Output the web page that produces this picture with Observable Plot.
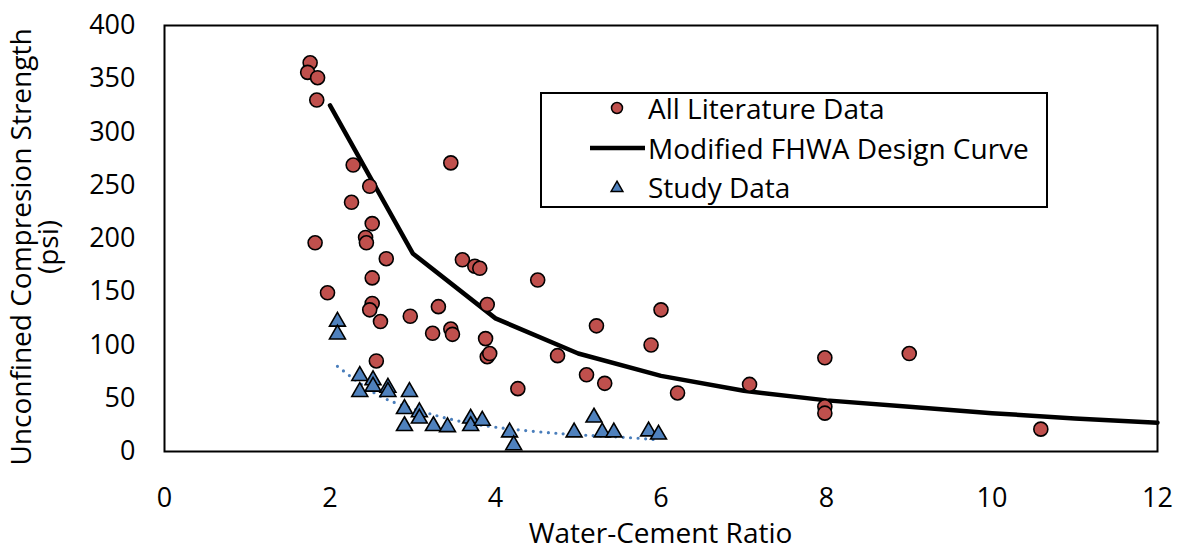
<!DOCTYPE html>
<html><head><meta charset="utf-8">
<script src="https://cdn.jsdelivr.net/npm/d3@7"></script>
<script src="https://cdn.jsdelivr.net/npm/@observablehq/plot@0.6"></script>
<style>
body{margin:0;background:#fff;}
#wrap{position:relative;width:1179px;height:552px;font-family:"Open Sans",sans-serif;}
#legend{position:absolute;left:540px;top:92px;width:508px;height:116px;border:2px solid #000;box-sizing:border-box;background:#fff;font-size:28px;color:#000;}
.row{position:absolute;left:0;height:36px;width:500px;}
.row svg{position:absolute;left:48px;top:0;}
.row span{position:absolute;left:106px;white-space:nowrap;top:50%;transform:translateY(-50%);line-height:1;}
</style></head>
<body><div id="wrap"></div>
<script>
// All Literature Data
const litX = [1.76,1.73,1.85,1.84,2.28,3.46,2.48,2.26,2.51,2.43,2.44,1.82,2.68,3.60,3.75,3.81,2.51,4.51,1.97,2.51,2.48,3.31,3.90,2.61,2.97,3.24,3.46,3.48,3.88,3.90,3.93,4.75,2.56,4.27,5.22,6.00,5.88,5.10,5.32,6.20,7.07,7.98,9.00,7.98,7.98,10.59];
const litY = [365,356,351,330,269,271,249,234,214,201,196,196,181,180,174,172,163,161,149,139,133,136,138,122,127,111,115,110,106,89,92,90,85,59,118,133,100,72,64,55,63,88,92,42,36,21];
// Study Data
const studyX = [2.09,2.09,2.36,2.36,2.52,2.52,2.70,2.70,2.96,2.90,2.90,3.08,3.08,3.25,3.42,3.70,3.70,3.84,4.17,4.22,4.95,5.19,5.29,5.43,5.85,5.97];
const studyY = [122,110,71,56,67,61,60,56,56,40,24,37,31,24,23,31,24,29,18,6,18,32,18,18,19,16];
// Modified FHWA Design Curve
const curveX = [2,3,4,5,6,7,8,9,10,11,12];
const curveY = [325,186,125,92,71,57,48,42,36,31,27];
// Study data trend (dotted)
const trendX = [2.09,2.57,3.01,3.42,3.98,4.82,5.51,5.95];
const trendY = [80,53.5,40,31,23,16.6,13.5,11];
const xTicks = [0,2,4,6,8,10,12];
const yTicks = [0,50,100,150,200,250,300,350,400];

const lit = litX.map((x,i)=>({x, y: litY[i]}));
const study = studyX.map((x,i)=>({x, y: studyY[i]}));
const curve = curveX.map((x,i)=>({x, y: curveY[i]}));
const trend = trendX.map((x,i)=>({x, y: trendY[i]}));

const FONT = '"Open Sans", sans-serif';
const chart = Plot.plot({
  width: 1179, height: 552,
  marginLeft: 164, marginRight: 22, marginTop: 25, marginBottom: 101,
  style: {fontFamily: FONT, fontSize: "27px", color: "#000", background: "#fff", overflow: "visible"},
  x: {domain: [0, 12], ticks: xTicks, tickSize: 0, tickPadding: 36, label: null},
  y: {domain: [0, 400], ticks: yTicks, tickSize: 0, tickPadding: 29, label: null},
  marks: [
    Plot.line(curve, {x: "x", y: "y", stroke: "#000", strokeWidth: 4.5}),
    Plot.line(trend, {x: "x", y: "y", stroke: "#4A7EBB", strokeWidth: 3.2, strokeDasharray: "0 7.5", strokeLinecap: "round", curve: "natural"}),
    Plot.dot(lit, {x: "x", y: "y", r: 7, fill: "#C0504D", stroke: "#000", strokeWidth: 1.6}),
    Plot.dot(study, {x: "x", y: "y", symbol: "triangle", r: 5.9, fill: "#4F81BD", stroke: "#000", strokeWidth: 1.6}),
    Plot.frame({stroke: "#000", strokeWidth: 2})
  ]
});
document.getElementById("wrap").appendChild(chart);

const svg = d3.select(chart);
svg.append("text")
  .attr("x", 660.5).attr("y", 543)
  .attr("text-anchor", "middle")
  .style("font-size", "28px").style("font-family", FONT).attr("fill", "#000")
  .text("Water-Cement Ratio");
const yt = svg.append("text")
  .attr("transform", "translate(0,247) rotate(-90)")
  .attr("text-anchor", "middle")
  .style("font-size", "28px").style("font-family", FONT).attr("fill", "#000");
yt.append("tspan").attr("x", 0).attr("y", 31).text("Unconfined Compresion Strength");
yt.append("tspan").attr("x", 0).attr("y", 58).text("(psi)");

// Legend
const legend = d3.select("#wrap").append("div").attr("id", "legend");
const rows = [
  {label: "All Literature Data", kind: "circle", top: -4},
  {label: "Modified FHWA Design Curve", kind: "line", top: 36},
  {label: "Study Data", kind: "triangle", top: 75}
];
rows.forEach(r => {
  const row = legend.append("div").attr("class", "row").style("top", r.top + "px");
  const s = row.append("svg").attr("width", 56).attr("height", 36);
  if (r.kind === "circle") s.append("circle").attr("cx", 27).attr("cy", 18).attr("r", 5.5).attr("fill", "#C0504D").attr("stroke", "#000").attr("stroke-width", 1.5);
  if (r.kind === "line") s.append("line").attr("x1", 0).attr("x2", 55).attr("y1", 18).attr("y2", 18).attr("stroke", "#000").attr("stroke-width", 4.5);
  if (r.kind === "triangle") s.append("path").attr("d", d3.symbol(d3.symbolTriangle, 60)()).attr("transform", "translate(27,19)").attr("fill", "#4F81BD").attr("stroke", "#000").attr("stroke-width", 1.5);
  row.append("span").text(r.label);
});
</script>
</body></html>
